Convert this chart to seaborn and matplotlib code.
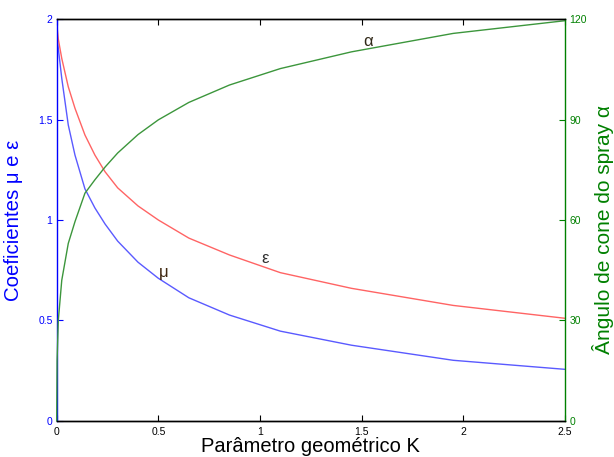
import matplotlib
matplotlib.use("Agg")
import matplotlib.pyplot as plt
import seaborn as sns
import pandas as pd

# values
K = [0, 0.002, 0.008, 0.025, 0.057, 0.09, 0.139, 0.188, 0.238, 0.3, 0.4, 0.5,
     0.65, 0.85, 1.1, 1.45, 1.95, 2.5]
mu = [1.93, 1.9, 1.854, 1.705, 1.473, 1.323, 1.155, 1.06, 0.98, 0.895, 0.79, 0.71,
      0.613, 0.527, 0.447, 0.377, 0.302, 0.257]
eps = [2.0, 1.96, 1.9, 1.804, 1.663, 1.556, 1.423, 1.323, 1.24, 1.16, 1.07, 1.0,
       0.91, 0.826, 0.738, 0.66, 0.575, 0.511]
alpha = [0, 18, 30, 42, 53, 59.5, 68, 72, 75.8, 80, 85.5, 89.9,
         95.1, 100.3, 105.2, 110.2, 115.7, 119.5]

x_ticks = [0, 0.5, 1, 1.5, 2, 2.5]
x_ticklabels = ["0", "0.5", "1", "1.5", "2", "2.5"]
left_ticks = [0, 0.5, 1, 1.5, 2]
left_ticklabels = ["0", "0.5", "1", "1.5", "2"]
right_ticks = [0, 30, 60, 90, 120]
right_ticklabels = ["0", "30", "60", "90", "120"]

sns.set_theme(style="white")
plt.rcParams["font.family"] = ["Liberation Sans", "DejaVu Sans"]
plt.rcParams["xtick.direction"] = "in"
plt.rcParams["ytick.direction"] = "in"

df = pd.DataFrame({"K": K, "mu": mu, "eps": eps, "alpha": alpha})

fig = plt.figure(figsize=(6.14, 4.57), dpi=100)
ax = fig.add_axes([0.0923, 0.0788, 0.8279, 0.8796])
ax2 = ax.twinx()

sns.lineplot(data=df, x="K", y="mu", ax=ax, color="#5a5aff", lw=1, sort=False)
sns.lineplot(data=df, x="K", y="eps", ax=ax, color="#ff6464", lw=1, sort=False)
sns.lineplot(data=df, x="K", y="alpha", ax=ax2, color="#3c963c", lw=1, sort=False, clip_on=False)

ax.set_xlim(0, 2.5)
ax.set_ylim(0, 2)
ax2.set_ylim(0, 120)

ax.set_xticks(x_ticks)
ax.set_xticklabels(x_ticklabels)
ax.set_yticks(left_ticks)
ax.set_yticklabels(left_ticklabels)
ax2.set_yticks(right_ticks)
ax2.set_yticklabels(right_ticklabels)

ax.tick_params(axis="x", which="both", top=True, bottom=True, length=4, width=0.8,
               labelsize=7.5, colors="black", pad=4)
ax.tick_params(axis="y", length=4, width=0.8, labelsize=7.5, colors="blue", pad=3)
ax2.tick_params(axis="y", length=4, width=0.8, labelsize=7.5, colors="green", pad=3)

for a in (ax, ax2):
    for s in a.spines.values():
        s.set_linewidth(1)
        s.set_color("black")
ax.spines["left"].set_color("blue")
ax2.spines["left"].set_visible(False)
ax2.spines["right"].set_color("green")
ax.spines["right"].set_visible(False)

ax.set_xlabel("Parâmetro geométrico K", fontsize=14.5, color="black", labelpad=0)
ax.set_ylabel("Coeficientes μ e ε", fontsize=14.7, color="blue", labelpad=11)
ax2.set_ylabel("")
fig.text(603 / 614, 1 - 229 / 457, "Ângulo de cone do spray α", fontsize=15,
         color="green", rotation=90, ha="center", va="center")

# curve labels
ax.text(0.524, 0.74, "μ", fontsize=12, color="#402810", ha="center", va="center")
ax.text(1.025, 0.81, "ε", fontsize=12, color="#303030", ha="center", va="center")
ax.text(1.533, 1.887, "α", fontsize=12, color="#302818", ha="center", va="center")

fig.savefig("out.png", dpi=100)
